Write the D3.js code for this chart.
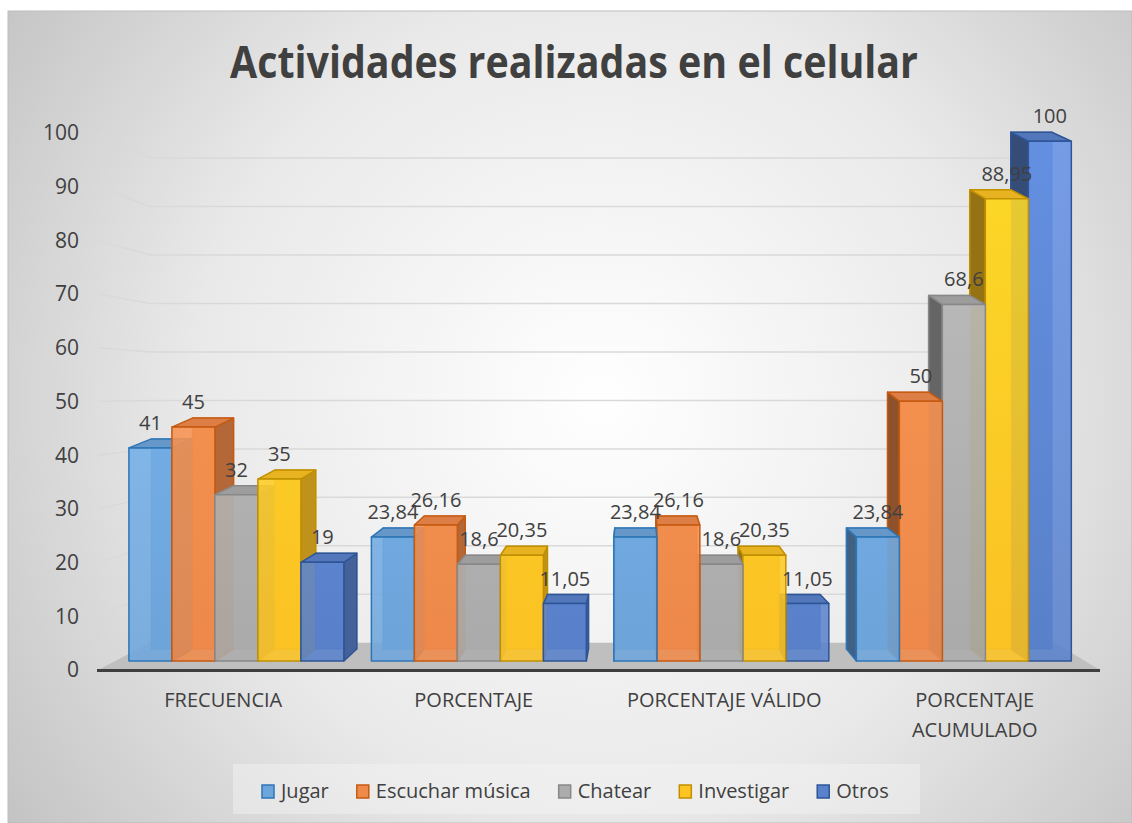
<!DOCTYPE html>
<html>
<head>
<meta charset="utf-8">
<script src="https://cdn.jsdelivr.net/npm/d3@7"></script>
<style>
  body { margin: 0; background: #fff; }
  text { font-family: 'Open Sans', sans-serif; fill: #404040; }
</style>
</head>
<body>
<svg id="chart" width="1132" height="823"></svg>
<script>
// data
const categories = ["FRECUENCIA", "PORCENTAJE", "PORCENTAJE VÁLIDO", "PORCENTAJE ACUMULADO"];
const series = ["Jugar", "Escuchar música", "Chatear", "Investigar", "Otros"];
const jugar = [41, 23.84, 23.84, 23.84];
const escucharMusica = [45, 26.16, 26.16, 50];
const chatear = [32, 18.6, 18.6, 68.6];
const investigar = [35, 20.35, 20.35, 88.95];
const otros = [19, 11.05, 11.05, 100];
const yTicks = [0, 10, 20, 30, 40, 50, 60, 70, 80, 90, 100];

const values = [jugar, escucharMusica, chatear, investigar, otros];

const fill = d3.scaleOrdinal(series, ["#6ea6dc", "#f08a4b", "#acacac", "#fec424", "#5a82cc"]);
const edge = d3.scaleOrdinal(series, ["#2e75b6", "#c55a11", "#888888", "#c09000", "#2f5597"]);

const svg = d3.select("#chart");
const defs = svg.append("defs");

// chart background
const bg = defs.append("radialGradient").attr("id", "bg")
  .attr("gradientUnits", "userSpaceOnUse")
  .attr("cx", 600).attr("cy", 400).attr("r", 740);
bg.append("stop").attr("offset", "0").attr("stop-color", "#ffffff");
bg.append("stop").attr("offset", "0.55").attr("stop-color", "#e9e9e9");
bg.append("stop").attr("offset", "1").attr("stop-color", "#c2c2c2");

svg.append("rect").attr("x", 8).attr("y", 11).attr("width", 1124).attr("height", 812)
  .attr("fill", "url(#bg)").attr("stroke", "#bdbdbd");

// front faces get a light-to-base gradient
series.forEach((s, j) => {
  const g = defs.append("linearGradient").attr("id", "grad" + j)
    .attr("gradientUnits", "userSpaceOnUse")
    .attr("x1", 0).attr("y1", 140).attr("x2", 0).attr("y2", 661);
  g.append("stop").attr("offset", "0").attr("stop-color", d3.color(fill(s)).brighter(0.35));
  g.append("stop").attr("offset", "1").attr("stop-color", fill(s));
});

// simple perspective: vanishing point + depth factors
const VX = 634, VY = 390;
const S_WALL = 0.903, S_FRONT = 0.968, S_BACK = 0.925;
const px = (x, s) => VX + (x - VX) * s;
const py = (y, s) => VY + (y - VY) * s;

const y = d3.scaleLinear().domain([0, 100]).range([670, 133]);
const x0 = d3.scaleBand().domain(categories).range([98, 1100]);
const x1 = d3.scaleBand().domain(series).range([0, x0.bandwidth()]).paddingOuter(0.32);

// floor
const fx0 = 98, fx1 = 1100;
svg.append("path")
  .attr("d", d3.line()([
    [fx0, y(0)], [fx1, y(0)],
    [px(fx1, S_WALL), py(y(0), S_WALL)], [px(fx0, S_WALL), py(y(0), S_WALL)]
  ]) + "Z")
  .attr("fill", "#bfbfbf");
svg.append("line")
  .attr("x1", fx0 - 1).attr("x2", fx1).attr("y1", y(0) + 0.5).attr("y2", y(0) + 0.5)
  .attr("stroke", "#3f3f3f").attr("stroke-width", 3);

// gridlines: side wall segment + back wall
const grid = svg.append("g").attr("fill", "none").attr("stroke", "#d9d9d9").attr("stroke-width", 1.5);
yTicks.filter(d => d > 0).forEach(t => {
  grid.append("path").attr("d", d3.line()([
    [fx0, y(t)],
    [px(fx0, S_WALL), py(y(t), S_WALL)],
    [px(fx1, S_WALL), py(y(t), S_WALL)]
  ]));
});

// y tick labels
svg.append("g").selectAll("text").data(yTicks).join("text")
  .attr("x", 79).attr("y", d => y(d)).attr("dy", "0.35em")
  .attr("text-anchor", "end").attr("font-size", 21)
  .text(d => d);

// build bars
const bars = [];
categories.forEach((c, i) => {
  series.forEach((s, j) => {
    const v = values[j][i];
    const xl = x0(c) + x1(s), xr = xl + x1.bandwidth();
    const b = {
      s, j, v,
      fl: px(xl, S_FRONT), fr: px(xr, S_FRONT),
      ft: py(y(v), S_FRONT), fb: py(y(0), S_FRONT),
      bl: px(xl, S_BACK), br: px(xr, S_BACK),
      bb: py(y(0), S_BACK)
    };
    b.bt = b.ft - 9;
    b.cx = (b.fl + b.fr) / 2;
    bars.push(b);
  });
});
// painter order: farthest from vanishing point first
bars.sort((a, b) => Math.abs(b.cx - VX) - Math.abs(a.cx - VX));

const poly = pts => d3.line()(pts) + "Z";
const barG = svg.append("g").attr("stroke-linejoin", "round");
bars.forEach(b => {
  const g = barG.append("g").attr("stroke", edge(b.s)).attr("stroke-width", 1.5);
  const base = d3.color(fill(b.s));
  // back face (seen through the transparent front)
  g.append("path").attr("d", poly([[b.bl, b.bt], [b.br, b.bt], [b.br, b.bb], [b.bl, b.bb]]))
    .attr("fill", base.darker(0.3)).attr("stroke-opacity", 0.6);
  // side face
  const right = b.cx < VX;
  const sx = right ? b.fr : b.fl, sb = right ? b.br : b.bl;
  g.append("path").attr("d", poly([[sx, b.ft], [sb, b.bt], [sb, b.bb], [sx, b.fb]]))
    .attr("fill", right ? base.darker(0.8) : base.darker(1.5));
  // top face
  g.append("path").attr("d", poly([[b.fl, b.ft], [b.fr, b.ft], [b.br, b.bt], [b.bl, b.bt]]))
    .attr("fill", base.darker(0.25));
  // front face
  g.append("rect").attr("x", b.fl).attr("y", b.ft)
    .attr("width", b.fr - b.fl).attr("height", b.fb - b.ft)
    .attr("fill", "url(#grad" + b.j + ")").attr("fill-opacity", 0.88);
});

// data labels
const fmt = v => String(v).replace(".", ",");
svg.append("g").selectAll("text").data(bars).join("text")
  .attr("x", d => d.cx).attr("y", d => d.ft - 25).attr("dy", "0.35em")
  .attr("text-anchor", "middle").attr("font-size", 20)
  .text(d => fmt(d.v));

// category labels (wrapped when too wide for the band)
const catG = svg.append("g");
categories.forEach(c => {
  const t = catG.append("text").attr("x", x0(c) + x0.bandwidth() / 2).attr("y", 700)
    .attr("dy", "0.35em").attr("text-anchor", "middle").attr("font-size", 20).text(c);
  if (t.node().getComputedTextLength() > 212) {
    const words = c.split(" ");
    t.text(null);
    words.forEach((w, k) => {
      t.append("tspan").attr("x", x0(c) + x0.bandwidth() / 2)
        .attr("dy", k === 0 ? "0.35em" : "1.5em").text(w);
    });
  }
});

// title
svg.append("text").attr("x", 574).attr("y", 78).attr("text-anchor", "middle")
  .attr("font-size", 44).attr("font-weight", "bold")
  .attr("textLength", 688).attr("lengthAdjust", "spacingAndGlyphs")
  .text("Actividades realizadas en el celular");

// legend
svg.append("rect").attr("x", 233).attr("y", 764).attr("width", 687).attr("height", 50)
  .attr("fill", "#f4f4f4").attr("fill-opacity", 0.45);
const leg = svg.append("g");
let lx = 262;
series.forEach(s => {
  leg.append("rect").attr("x", lx).attr("y", 785).attr("width", 12).attr("height", 13)
    .attr("fill", fill(s)).attr("stroke", edge(s)).attr("stroke-width", 1.5);
  const t = leg.append("text").attr("x", lx + 19).attr("y", 791).attr("dy", "0.35em")
    .attr("font-size", 20).text(s);
  lx += 19 + t.node().getComputedTextLength() + 28;
});
</script>
</body>
</html>
